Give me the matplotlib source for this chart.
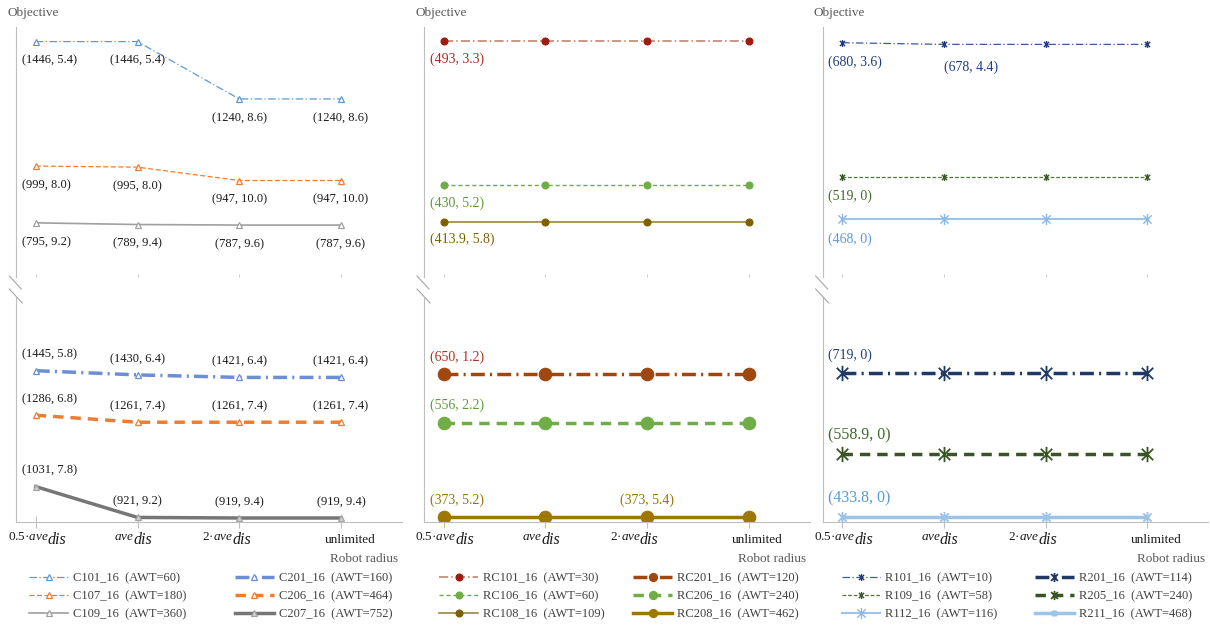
import numpy as np
import matplotlib.pyplot as plt
from matplotlib.path import Path
from matplotlib.lines import Line2D

plt.rcParams['font.family'] = ['Liberation Serif', 'DejaVu Sans']
plt.rcParams['mathtext.fontset'] = 'custom'
plt.rcParams['mathtext.rm'] = 'Liberation Serif'
plt.rcParams['mathtext.it'] = 'Liberation Serif:italic'

nan = np.nan

# robot radius categories (main part + lowered subscript)
radius_main = ['0.5·$ave$', '$ave$', '2·$ave$', 'unlimited']
radius_sub = ['dis', 'dis', 'dis', '']

# C instances: (objective, waiting time)
c1_names = ['C101_16', 'C107_16', 'C109_16']
c1_awt = [60, 180, 360]
c1_obj = [[1446, 1446, 1240, 1240], [999, 995, 947, 947], [795, 789, 787, 787]]
c1_wait = [[5.4, 5.4, 8.6, 8.6], [8.0, 8.0, 10.0, 10.0], [9.2, 9.4, 9.6, 9.6]]
c2_names = ['C201_16', 'C206_16', 'C207_16']
c2_awt = [160, 464, 752]
c2_obj = [[1445, 1430, 1421, 1421], [1286, 1261, 1261, 1261], [1031, 921, 919, 919]]
c2_wait = [[5.8, 6.4, 6.4, 6.4], [6.8, 7.4, 7.4, 7.4], [7.8, 9.2, 9.4, 9.4]]

# RC instances (nan = no label shown)
rc1_names = ['RC101_16', 'RC106_16', 'RC108_16']
rc1_awt = [30, 60, 109]
rc1_obj = [[493, 493, 493, 493], [430, 430, 430, 430], [413.9, 413.9, 413.9, 413.9]]
rc1_wait = [[3.3, nan, nan, nan], [5.2, nan, nan, nan], [5.8, nan, nan, nan]]
rc2_names = ['RC201_16', 'RC206_16', 'RC208_16']
rc2_awt = [120, 240, 462]
rc2_obj = [[650, 650, 650, 650], [556, 556, 556, 556], [373, 373, 373, 373]]
rc2_wait = [[1.2, nan, nan, nan], [2.2, nan, nan, nan], [5.2, nan, 5.4, nan]]

# R instances
r1_names = ['R101_16', 'R109_16', 'R112_16']
r1_awt = [10, 58, 116]
r1_obj = [[680, 678, 678, 678], [519, 519, 519, 519], [468, 468, 468, 468]]
r1_wait = [[3.6, 4.4, nan, nan], [0, nan, nan, nan], [0, nan, nan, nan]]
r2_names = ['R201_16', 'R205_16', 'R211_16']
r2_awt = [114, 240, 468]
r2_obj = [[719, 719, 719, 719], [558.9, 558.9, 558.9, 558.9], [433.8, 433.8, 433.8, 433.8]]
r2_wait = [[0, nan, nan, nan], [0, nan, nan, nan], [0, nan, nan, nan]]

W, H = 1210, 626
fig = plt.figure(figsize=(W / 100, H / 100), dpi=100)


def fx(px):
    return px / W


def fy(py):
    return 1 - py / H


# asterisk marker like the one in excel (X plus vertical bar)
star = Path([(0, -1), (0, 1), (-0.75, -0.75), (0.75, 0.75), (-0.75, 0.75), (0.75, -0.75)],
            [Path.MOVETO, Path.LINETO] * 3)

thin_dd = (0, (6, 2, 1, 2))
thick_dd = (0, (4, 1.5, 0.6, 1.5))

# style: line colour, marker colour, face, linestyle, lw, marker, ms, mew, label colour
panels = [
    dict(spine=16.3, top=(c1_names, c1_awt, c1_obj, c1_wait), bot=(c2_names, c2_awt, c2_obj, c2_wait),
         ytop=(600.5, 1498.4), ybot=(904.7, 1704.6), wfmt='{:.1f}', fs=9, dyt=19, dyb=-16, mscale=1.0,
         st_top=[('#5B9BD5', '#5B9BD5', 'white', thin_dd, 0.9, '^', 5, 0.9, '#1a1a1a'),
                 ('#ED7D31', '#ED7D31', 'white', (0, (4, 2)), 0.9, '^', 5, 0.9, '#1a1a1a'),
                 ('#A0A0A0', '#A0A0A0', 'white', '-', 1.2, '^', 5, 0.9, '#1a1a1a')],
         st_bot=[('#6B8ED6', '#6B8ED6', 'white', thick_dd, 2.5, '^', 5, 0.9, '#1a1a1a'),
                 ('#ED7D31', '#ED7D31', 'white', (0, (3, 2)), 2.5, '^', 5, 0.9, '#1a1a1a'),
                 ('#767676', '#A5A5A5', '#D0D0D0', '-', 2.5, '^', 5, 0.9, '#1a1a1a')]),
    dict(spine=424, top=(rc1_names, rc1_awt, rc1_obj, rc1_wait), bot=(rc2_names, rc2_awt, rc2_obj, rc2_wait),
         ytop=(389.7, 499.1), ybot=(363.0, 798.3), wfmt='{:g}', fs=10, dyt=18, dyb=-17, mscale=0.65,
         st_top=[('#BC7A60', '#9E1B0F', '#9E1B0F', thin_dd, 1.1, 'o', 5, 0.8, '#A52A1F'),
                 ('#70AD47', '#70AD47', '#70AD47', (0, (3, 2)), 1.0, 'o', 5, 0.8, '#5E9A3A'),
                 ('#9B8540', '#7F6000', '#7F6000', '-', 1.2, 'o', 5, 0.8, '#7F6000')],
         st_bot=[('#A0460F', '#A0460F', '#A0460F', thick_dd, 2.5, 'o', 9, 0.8, '#A8321E'),
                 ('#70AD47', '#70AD47', '#70AD47', (0, (3, 2)), 2.5, 'o', 9, 0.8, '#5E9A3A'),
                 ('#9E7700', '#9E7700', '#9E7700', '-', 2.5, 'o', 9, 0.8, '#997300')]),
    dict(spine=822.7, top=(r1_names, r1_awt, r1_obj, r1_wait), bot=(r2_names, r2_awt, r2_obj, r2_wait),
         ytop=(398.3, 698.9), ybot=(423.3, 868.8), wfmt='{:g}', fs=10, dyt=20, dyb=-18, mscale=0.6,
         st_top=[('#3A5A9A', '#203D7A', 'none', thin_dd, 0.9, star, 5, 1.0, '#203D7A'),
                 ('#52753A', '#3A5A25', 'none', (0, (3, 1.5)), 0.9, star, 5, 1.0, '#43682B'),
                 ('#9DC3E6', '#8DB8E4', 'none', '-', 1.5, star, 8, 1.0, '#5B9BD5')],
         st_bot=[('#1F3864', '#1F3864', 'none', thick_dd, 2.5, star, 11, 1.3, '#203D7A'),
                 ('#375623', '#375623', 'none', (0, (3, 2)), 2.5, star, 11, 1.3, '#43682B'),
                 ('#9DC3E6', '#9DC3E6', 'none', '-', 2.5, star, 8, 1.3, '#5B9BD5')]),
]

legend_x = [(29.3, 235), (439.3, 633.3), (841.7, 1035)]
ax_w = 385.7
step = 101.7
x = np.arange(len(radius_main))
grey = '#BFBFBF'

for p, pan in enumerate(panels):
    s = pan['spine']
    xl = (-19.5 / step, -19.5 / step + ax_w / step)
    ax_t = fig.add_axes([fx(s), fy(277), ax_w / W, 250 / H])
    ax_b = fig.add_axes([fx(s), fy(522), ax_w / W, 224 / H])
    handles = []
    for ax, key, skey, yl, dy in [(ax_t, 'top', 'st_top', pan['ytop'], pan['dyt']),
                                  (ax_b, 'bot', 'st_bot', pan['ybot'], pan['dyb'])]:
        names, awt, objs, waits = pan[key]
        col = []
        for k in range(len(names)):
            lc, mc, face, ls, lw, mk, ms, mew, tc = pan[skey][k]
            ln, = ax.plot(x, objs[k], color=lc, ls=ls, lw=lw, marker=mk, ms=ms, mfc=face,
                          mec=mc, mew=mew, label=f'{names[k]}  (AWT={awt[k]})')
            col.append(ln)
            for i, w in enumerate(waits[k]):
                if np.isnan(w):
                    continue
                txt = '({:g}, {})'.format(objs[k][i], pan['wfmt'].format(w))
                fs = pan['fs']
                if key == 'bot' and p == 2 and k > 0:
                    fs = 11.5
                ha, dx, ddy = 'center', 0, dy
                if i == 0:
                    ha, dx = 'left', -14
                if p == 2 and key == 'top' and k == 0 and i == 1:
                    ha, dx, ddy = 'left', 0, 23
                ax.annotate(txt, xy=(i, objs[k][i]), xytext=(dx, -ddy), textcoords='offset pixels',
                            ha=ha, va='center', fontsize=fs, color=tc)
        handles.append(col)
        ax.set_xlim(*xl)
        ax.set_ylim(*yl)
        ax.set_yticks([])
        ax.set_xticks(x)
        ax.set_xticklabels([])
        for sp in ['top', 'right']:
            ax.spines[sp].set_visible(False)
        ax.spines['left'].set_color(grey)
        ax.patch.set_visible(False)
    ax_t.spines['bottom'].set_visible(False)
    ax_t.tick_params(axis='x', direction='in', length=2, color='#D0D0D0', width=0.8)
    ax_b.spines['bottom'].set_color(grey)
    ax_b.tick_params(axis='x', direction='inout', length=9, color=grey, width=0.8)

    # x tick labels drawn by hand to get the big lowered subscript
    splits = [13, -3, -6]
    for i in x:
        if radius_sub[i]:
            ax_b.annotate(radius_main[i], xy=(i, 0), xycoords=('data', 'axes fraction'),
                          xytext=(splits[i], -18), textcoords='offset pixels',
                          ha='right', va='baseline', fontsize=9.5, color='#1a1a1a')
            ax_b.annotate(radius_sub[i], xy=(i, 0), xycoords=('data', 'axes fraction'),
                          xytext=(splits[i] - 1, -22), textcoords='offset pixels',
                          ha='left', va='baseline', fontsize=11.5, style='italic', color='#1a1a1a')
        else:
            ax_b.annotate(radius_main[i], xy=(i, 0), xycoords=('data', 'axes fraction'),
                          xytext=(9, -21), textcoords='offset pixels',
                          ha='center', va='baseline', fontsize=9.5, color='#1a1a1a')

    fig.text(fx(s + 382), fy(562), 'Robot radius', ha='right', va='baseline', fontsize=9.5, color='#595959')
    fig.text(fx(s - 9), fy(16), 'Objective', ha='left', va='baseline', fontsize=9.5, color='#595959')

    # axis break marks
    fig.add_artist(Line2D([fx(s - 7), fx(s + 5)], [fy(276), fy(289)], color='#A6A6A6', lw=0.8))
    fig.add_artist(Line2D([fx(s - 7), fx(s + 6)], [fy(289), fy(303)], color='#A6A6A6', lw=0.8))

    for c in range(2):
        fig.legend(handles=handles[c], loc='upper left', bbox_to_anchor=(fx(legend_x[p][c]), fy(572)),
                   frameon=False, borderpad=0, borderaxespad=0, handlelength=3.1, handletextpad=0.4,
                   labelspacing=0.5, fontsize=9, labelcolor='#404040',
                   markerscale=pan['mscale'] if c == 1 else 1.0)

fig.savefig('out.png', dpi=100)
